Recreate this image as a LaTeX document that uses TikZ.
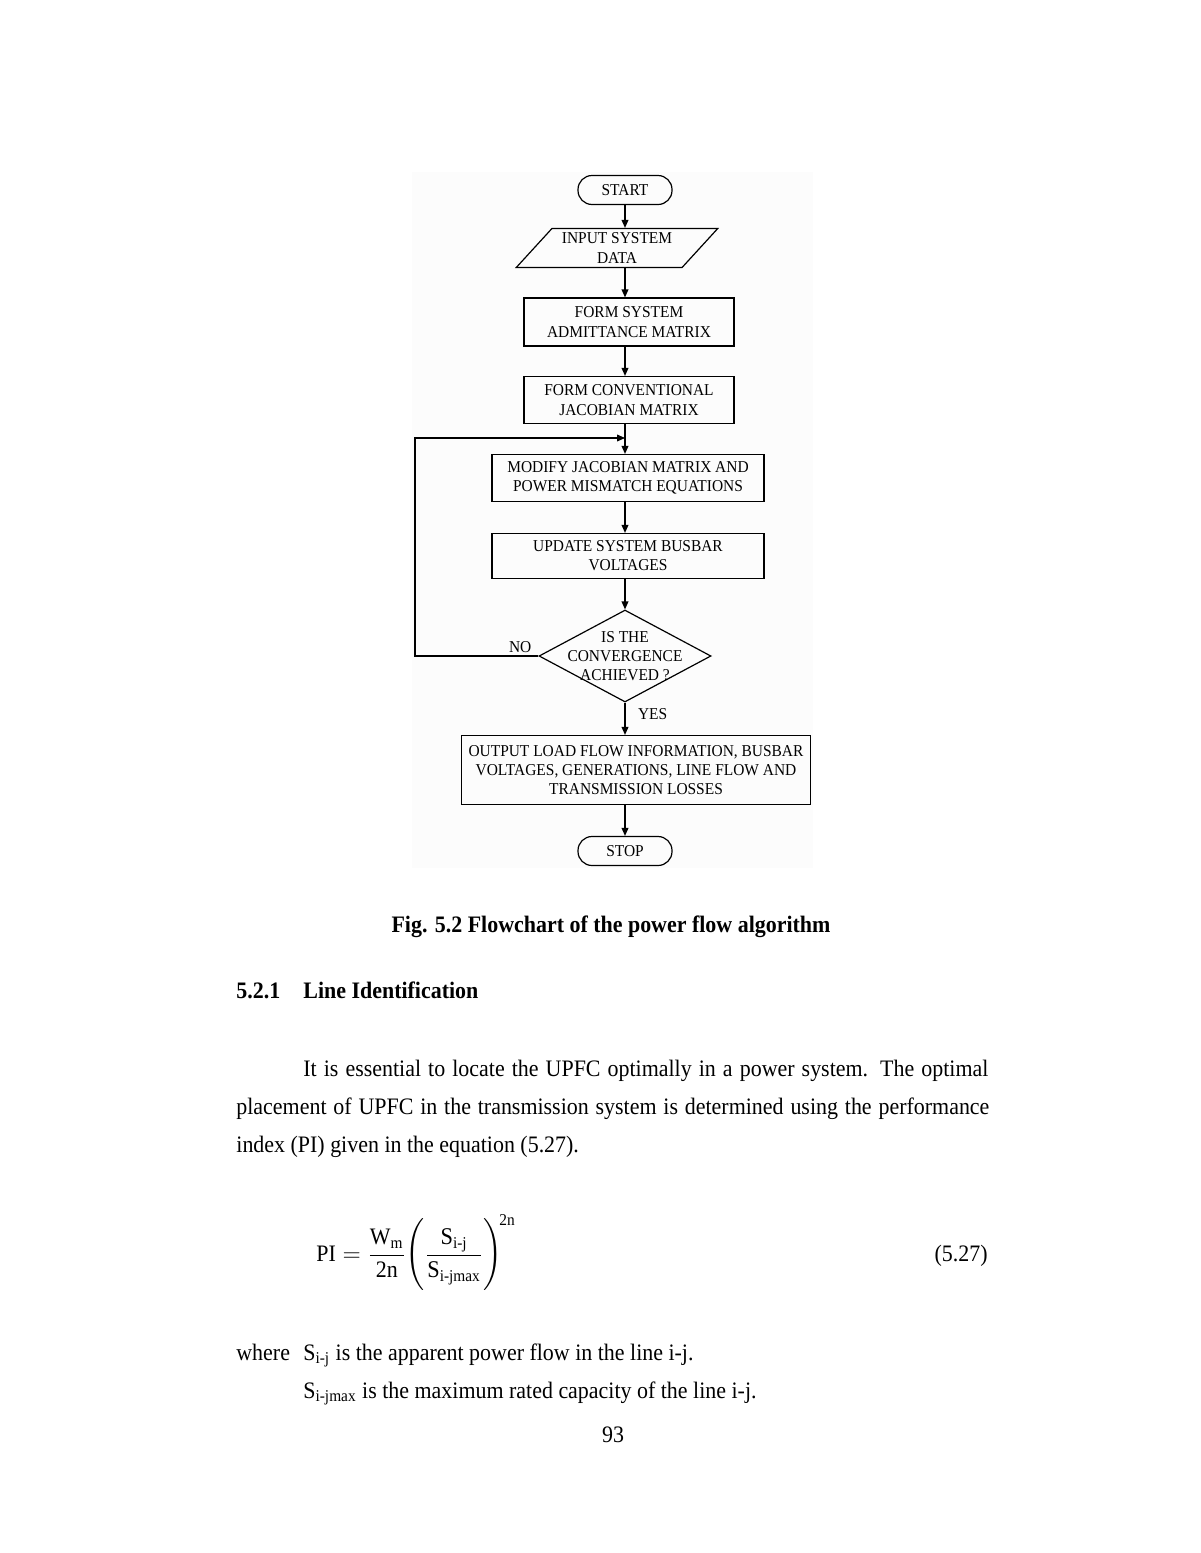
\documentclass[tikz,border=0pt]{standalone}
\usepackage{amsmath}
\usepackage{fontspec}
\setmainfont{Liberation Serif}[FakeStretch=0.93]
\usepackage{tikz}
\usetikzlibrary{arrows.meta, positioning, shapes.geometric}

\begin{document}
\begin{tikzpicture}[x=0.5pt, y=-0.5pt,
    chart/.style={font=\fontsize{8.3}{9.6}\selectfont, align=center},
    terminal/.style={chart, draw, line width=0.6pt, rounded corners=7pt, minimum width=47pt, minimum height=14.5pt, inner sep=0pt},
    process/.style={chart, draw, line width=0.6pt, minimum height=23.5pt, inner sep=1pt},
    inout/.style={chart, draw, line width=0.6pt, trapezium, trapezium left angle=45, trapezium right angle=135, trapezium stretches=true, minimum width=101pt, minimum height=19.5pt, inner sep=0pt},
    decision/.style={draw, line width=0.6pt, diamond, minimum width=86pt, minimum height=46pt, inner sep=0pt},
    flow/.style={line width=0.6pt, -{Triangle[length=4pt, width=3.4pt]}},
    body/.style={font=\fontsize{11.8}{19}\selectfont, inner sep=0pt, anchor=base west}]
    \useasboundingbox (0,0) rectangle (1200,1553);
    % Scanned figure background
    \fill[black!1] (412,172) rectangle (813,868);

    % Flowchart
    \node[terminal] (start) at (625,190) {START};
    \node[inout] (input) at (617,248) {INPUT SYSTEM\\DATA};
    \node[process, minimum width=105pt, minimum height=24pt] (admit) at (629,322) {FORM SYSTEM\\ADMITTANCE MATRIX};
    \node[process, minimum width=105pt] (jacob) at (629,400) {FORM CONVENTIONAL\\JACOBIAN MATRIX};
    \node[process, minimum width=136pt] (modify) at (628,478) {MODIFY JACOBIAN MATRIX AND\\POWER MISMATCH EQUATIONS};
    \node[process, minimum width=136pt, minimum height=22.5pt] (update) at (628,556) {UPDATE SYSTEM BUSBAR\\VOLTAGES};
    \node[decision] (conv) at (625,656) {};
    \node[chart] (convtext) at (625,656) {IS THE\\CONVERGENCE\\ACHIEVED ?};
    \node[process, minimum width=174.5pt, minimum height=34.5pt] (output) at (636,770) {OUTPUT LOAD FLOW INFORMATION, BUSBAR\\VOLTAGES, GENERATIONS, LINE FLOW AND\\TRANSMISSION LOSSES};
    \node[terminal] (stop) at (625,851) {STOP};

    % Connectors
    \coordinate (loop) at (415,438);
    \coordinate (join) at (625,438);
    \draw[flow] (start) -- (start |- input.north);
    \draw[flow] (input.south -| start) -- (start |- admit.north);
    \draw[flow] (start |- admit.south) -- (start |- jacob.north);
    \draw[flow] (start |- jacob.south) -- (start |- modify.north);
    \draw[flow] (start |- modify.south) -- (start |- update.north);
    \draw[flow] (start |- update.south) -- (conv.north);
    \draw[flow] (conv.south) -- (conv.south |- output.north);
    \draw[flow] (start |- output.south) -- (stop);
    \draw[flow] (conv.west) -| (loop) -- (join);
    \node[chart, left=0pt of conv.west, yshift=4.5pt] (no) {NO};
    \node[chart, right=3pt of conv.south, yshift=-5.5pt] (yes) {YES};

    % Caption and text
    \node[font=\fontsize{11.8}{14}\selectfont\bfseries, inner sep=0pt, anchor=base] (caption) at (611,932) {Fig. 5.2 Flowchart of the power flow algorithm};
    \node[body, font=\fontsize{11.8}{14}\selectfont\bfseries] (secnum) at (236,998) {5.2.1};
    \node[body, font=\fontsize{11.8}{14}\selectfont\bfseries] (sectitle) at (303,998) {Line Identification};
    \node[body] (line1) at (303,1076) {\makebox[342.5pt][s]{It is essential to locate the UPFC optimally in a power system. The optimal}};
    \node[body] (line2) at (236,1114) {\makebox[376.5pt][s]{placement of UPFC in the transmission system is determined using the performance}};
    \node[body] (line3) at (236,1152) {index (PI) given in the equation (5.27).};

    % Equation
    \node[body] (eq) at (316,1261) {$\displaystyle \text{PI} = \frac{\text{W}_{\text{m}}}{\text{2n}}\!\left(\rule[-15pt]{0pt}{35pt}\frac{\text{\large S}_{\text{i-j}}}{\text{\large S}_{\text{i-jmax}}}\right)^{\!\text{2n}}$};
    \node[body, anchor=base east] (eqnum) at (988,1261) {(5.27)};

    % Symbols
    \node[body] (where) at (236,1360) {where};
    \node[body] (sij) at (303,1360) {S\textsubscript{i-j} is the apparent power flow in the line i-j.};
    \node[body] (sijmax) at (303,1398) {S\textsubscript{i-jmax} is the maximum rated capacity of the line i-j.};
    \node[body, anchor=base] (page) at (613,1442) {93};
\end{tikzpicture}
\end{document}
